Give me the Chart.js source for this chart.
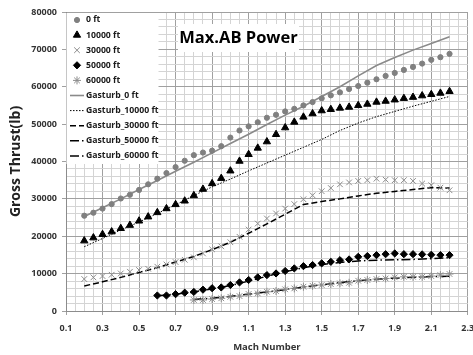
<!DOCTYPE html>
<html>
<head>
<meta charset="utf-8">
<script src="https://cdn.jsdelivr.net/npm/chart.js@4.4.1/dist/chart.umd.min.js"></script>
<style>
  html, body { margin: 0; padding: 0; background: #fff; }
  #wrap { width: 473px; height: 355px; }
</style>
</head>
<body>
<div id="wrap"><canvas id="chart" width="473" height="355"></canvas></div>
<script>
// Mach numbers of the test points
const machAll = [0.2, 0.25, 0.3, 0.35, 0.4, 0.45, 0.5, 0.55, 0.6, 0.65,
  0.7, 0.75, 0.8, 0.85, 0.9, 0.95, 1.0, 1.05, 1.1, 1.15,
  1.2, 1.25, 1.3, 1.35, 1.4, 1.45, 1.5, 1.55, 1.6, 1.65,
  1.7, 1.75, 1.8, 1.85, 1.9, 1.95, 2.0, 2.05, 2.1, 2.15, 2.2];
const mach50 = [0.6, 0.65, 0.7, 0.75, 0.8, 0.85, 0.9, 0.95, 1.0, 1.05,
  1.1, 1.15, 1.2, 1.25, 1.3, 1.35, 1.4, 1.45, 1.5, 1.55,
  1.6, 1.65, 1.7, 1.75, 1.8, 1.85, 1.9, 1.95, 2.0, 2.05, 2.1, 2.15, 2.2];
const mach60 = [0.8, 0.85, 0.9, 0.95, 1.0, 1.05, 1.1, 1.15, 1.2, 1.25,
  1.3, 1.35, 1.4, 1.45, 1.5, 1.55, 1.6, 1.65, 1.7, 1.75,
  1.8, 1.85, 1.9, 1.95, 2.0, 2.05, 2.1, 2.15, 2.2];

// gross thrust (lb) of the test points
const thrust0 = [25500, 26300, 27400, 28600, 30100, 31100, 32400, 33900, 35400, 36900,
  38500, 40200, 41700, 42400, 42900, 44100, 46400, 48300, 49400, 50500,
  51700, 52500, 53400, 54100, 55000, 55900, 56900, 57700, 58500, 59400,
  60200, 61100, 62000, 62900, 63700, 64500, 65300, 66200, 67200, 67900, 68800];
const thrust10k = [18800, 19600, 20500, 21200, 22100, 22950, 24100, 25200, 26350, 27400,
  28500, 29450, 30900, 32600, 34100, 35500, 37500, 40100, 41900, 43600,
  45300, 47250, 49050, 50550, 51900, 52800, 53600, 53950, 54300, 54550,
  55000, 55350, 55900, 56150, 56500, 56900, 57200, 57600, 57950, 58300, 58750];
const thrust30k = [8550, 9000, 9350, 9700, 10050, 10500, 10950, 11300, 11850, 12450,
  13100, 13700, 14350, 15400, 16500, 17300, 18400, 19850, 21800, 23400,
  24750, 26100, 27400, 28600, 29900, 30950, 32050, 32900, 33900, 34400,
  34800, 35000, 35400, 35150, 35000, 35000, 34800, 34100, 33650, 33000, 32300];
const thrust50k = [4150, 4150, 4500, 4900, 5100, 5700, 6100, 6300, 6950, 7650,
  8300, 9000, 9600, 10050, 10700, 11400, 12000, 12300, 12750, 13150,
  13600, 13800, 14500, 14700, 14950, 15200, 15400, 15200, 15200, 15150,
  15050, 14950, 14950];
const thrust60k = [2950, 2950, 3200, 3400, 3800, 4000, 4550, 4700, 5150, 5350,
  5800, 6050, 6500, 6750, 6950, 7200, 7400, 7550, 8100, 8300,
  8550, 8700, 9000, 9150, 9150, 9150, 9350, 9600, 9900];

// Gasturb curves
const gasMach = [0.2, 0.3, 0.4, 0.5, 0.6, 0.7, 0.8, 0.9, 1.0, 1.1,
  1.2, 1.3, 1.4, 1.5, 1.6, 1.7, 1.8, 1.9, 2.0, 2.1, 2.2];
const gasMach50 = [0.6, 0.7, 0.8, 0.9, 1.0, 1.1, 1.2, 1.3, 1.4, 1.5, 1.6, 1.7, 1.8, 1.9, 2.0, 2.1, 2.2];
const gasMach60 = [0.8, 0.9, 1.0, 1.1, 1.2, 1.3, 1.4, 1.5, 1.6, 1.7, 1.8, 1.9, 2.0, 2.1, 2.2];
const gas0 = [25300, 27600, 30000, 32500, 34900, 37400, 39800, 42300, 44800, 47300,
  49900, 52400, 54800, 57400, 60000, 62900, 65700, 67800, 69800, 71600, 73400];
const gas10k = [17200, 19400, 21700, 23800, 26100, 28400, 30900, 33200, 35300, 37500,
  39600, 41700, 43800, 45900, 48300, 50300, 52000, 53400, 54800, 56100, 57400];
const gas30k = [6700, 7800, 9000, 10300, 11600, 13100, 14600, 16400, 18400, 20800,
  23300, 25900, 28500, 29300, 30000, 30800, 31500, 32000, 32500, 33000, 32900];
const gas50k = [4100, 4500, 5100, 5900, 6800, 8000, 9300, 10500, 11600, 12400,
  13000, 13400, 13600, 13700, 13800, 14000, 14300];
const gas60k = [3100, 3400, 3900, 4500, 5100, 5700, 6400, 7000, 7600, 8100,
  8500, 8800, 9000, 9200, 9300];

const xTickLabels = ['0.1', '0.3', '0.5', '0.7', '0.9', '1.1', '1.3', '1.5', '1.7', '1.9', '2.1', '2.3'];
const yTickLabels = [0, 10000, 20000, 30000, 40000, 50000, 60000, 70000, 80000];

const FONT = "'Open Sans', 'Liberation Sans', sans-serif";

function pts(xs, ys) {
  return xs.map((x, i) => ({ x, y: ys[i] }));
}

function markerSet(label, xs, ys, style, radius, color, width) {
  return {
    label,
    data: pts(xs, ys),
    showLine: false,
    pointStyle: style,
    pointRadius: radius,
    pointBackgroundColor: color,
    pointBorderColor: color,
    pointBorderWidth: width,
    borderColor: color,
    backgroundColor: color,
  };
}

function lineSet(label, xs, ys, color, width, dash) {
  return {
    label,
    data: pts(xs, ys),
    showLine: true,
    pointRadius: 0,
    borderColor: color,
    backgroundColor: color,
    borderWidth: width,
    borderDash: dash,
    fill: false,
    tension: 0,
  };
}

const datasets = [
  markerSet('0 ft', machAll, thrust0, 'circle', 2.6, '#808080', 1),
  markerSet('10000 ft', machAll, thrust10k, 'triangle', 4.2, '#000000', 1),
  markerSet('30000 ft', machAll, thrust30k, 'crossRot', 4, '#8c8c8c', 1),
  markerSet('50000 ft', mach50, thrust50k, 'rectRot', 3.6, '#000000', 1),
  markerSet('60000 ft', mach60, thrust60k, 'star', 4, '#8c8c8c', 1),
  lineSet('Gasturb_0 ft', gasMach, gas0, '#8a8a8a', 1.6, []),
  lineSet('Gasturb_10000 ft', gasMach, gas10k, '#000000', 1, [1.5, 1.5]),
  lineSet('Gasturb_30000 ft', gasMach, gas30k, '#000000', 1.5, [6, 3]),
  lineSet('Gasturb_50000 ft', gasMach50, gas50k, '#000000', 1.5, [9, 3, 1.5, 3]),
  lineSet('Gasturb_60000 ft', gasMach60, gas60k, '#000000', 1.5, [9, 3, 1.5, 3]),
];

function isMajorX(v) {
  const k = (v - 0.1) / 0.2;
  return Math.abs(k - Math.round(k)) < 1e-6;
}
function isMajorY(v) {
  return yTickLabels.includes(Math.round(v));
}

// in-plot legend and title box
const boxes = {
  id: 'boxes',
  afterDraw(chart) {
    const ctx = chart.ctx;
    const area = chart.chartArea;
    ctx.save();

    ctx.fillStyle = '#ffffff';
    ctx.fillRect(area.left + 0.5, area.top + 1, 92, 151);

    chart.data.datasets.forEach((ds, i) => {
      const y = area.top + 8 + i * 15.1;
      const mx = area.left + 11;
      if (ds.showLine) {
        ctx.strokeStyle = ds.borderColor;
        ctx.lineWidth = ds.borderWidth;
        ctx.setLineDash(ds.borderDash);
        ctx.beginPath();
        ctx.moveTo(mx - 7, y);
        ctx.lineTo(mx + 7, y);
        ctx.stroke();
        ctx.setLineDash([]);
      } else {
        ctx.fillStyle = ds.pointBackgroundColor;
        ctx.strokeStyle = ds.pointBorderColor;
        ctx.lineWidth = ds.pointBorderWidth;
        Chart.helpers.drawPoint(ctx, {
          pointStyle: ds.pointStyle,
          radius: ds.pointRadius,
          rotation: 0,
          borderWidth: ds.pointBorderWidth,
        }, mx, y);
      }
      ctx.fillStyle = '#1a1a1a';
      ctx.font = 'bold 8.7px ' + FONT;
      ctx.textAlign = 'left';
      ctx.textBaseline = 'middle';
      ctx.fillText(ds.label, area.left + 20, y);
    });

    ctx.fillStyle = '#ffffff';
    ctx.fillRect(178, 24, 121, 28);
    ctx.fillStyle = '#000000';
    ctx.font = 'bold 16.5px ' + FONT;
    ctx.textAlign = 'center';
    ctx.textBaseline = 'middle';
    ctx.fillText('Max.AB Power', 238.5, 38);

    ctx.restore();
  },
};

new Chart(document.getElementById('chart'), {
  type: 'scatter',
  data: { datasets },
  options: {
    responsive: false,
    animation: false,
    layout: { padding: { left: 0, right: 5, top: 12, bottom: 0 } },
    plugins: {
      legend: { display: false },
      tooltip: { enabled: false },
    },
    scales: {
      x: {
        type: 'linear',
        min: 0.1,
        max: 2.3,
        afterFit(scale) {
          scale.height = 44;
          scale.paddingLeft = 0;
          scale.paddingRight = 0;
        },
        ticks: {
          stepSize: 0.05,
          autoSkip: false,
          maxRotation: 0,
          padding: 8,
          color: '#333333',
          font: { family: FONT, size: 9, weight: 'bold' },
          callback: (v) => {
            if (!isMajorX(v)) return '';
            const k = Math.round((v - 0.1) / 0.2);
            return xTickLabels[k];
          },
        },
        grid: {
          color: (c) => (isMajorX(c.tick.value) ? '#a0a0a0' : '#d4d4d4'),
          tickColor: (c) => (isMajorX(c.tick.value) ? '#a0a0a0' : 'rgba(0,0,0,0)'),
          tickLength: 4,
        },
        border: { color: '#8c8c8c' },
        title: {
          display: true,
          text: 'Mach Number',
          color: '#333333',
          padding: 2,
          font: { family: FONT, size: 9.5, weight: 'bold' },
        },
      },
      y: {
        min: 0,
        max: 80000,
        afterFit(scale) {
          scale.width = 66;
        },
        ticks: {
          stepSize: 2000,
          autoSkip: false,
          padding: 5,
          color: '#333333',
          font: { family: FONT, size: 9, weight: 'bold' },
          callback: (v) => (isMajorY(v) ? String(v) : ''),
        },
        grid: {
          color: (c) => (isMajorY(c.tick.value) ? '#a0a0a0' : '#d4d4d4'),
          tickColor: (c) => (isMajorY(c.tick.value) ? '#a0a0a0' : 'rgba(0,0,0,0)'),
          tickLength: 4,
        },
        border: { color: '#8c8c8c' },
        title: {
          display: true,
          text: 'Gross Thrust(lb)',
          color: '#222222',
          padding: 8,
          font: { family: FONT, size: 14, weight: 'bold' },
        },
      },
    },
  },
  plugins: [boxes],
});
</script>
</body>
</html>
